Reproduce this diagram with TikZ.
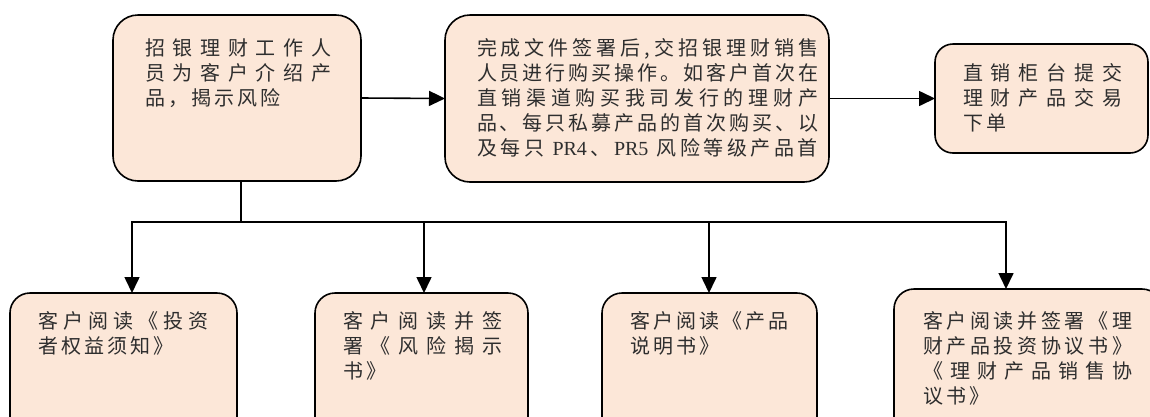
\documentclass[tikz,border=0pt]{standalone}
\usepackage{fontspec}
\newfontfamily\cjk[LetterSpace=15]{Noto Sans CJK SC}
\newfontfamily\latinrm{Liberation Serif}
\usetikzlibrary{arrows.meta, calc}

\definecolor{boxfill}{RGB}{252,231,216}

% spread the characters of one line over a given width
\def\sprstop{\sprstop}
\def\sprstopdef{\sprstop}
\def\sprfirst#1{#1\sprnext}
\def\sprnext#1{\def\sprtmp{#1}\ifx\sprtmp\sprstopdef\else\hfill#1\expandafter\sprnext\fi}
\newcommand\spreadline[2]{\makebox[#1][s]{\sprfirst#2\sprstop}}

% text block of a box: width, height, lines
\newcommand\steptext[3]{\parbox[t][#2][t]{#1}{\cjk\fontsize{20pt}{25pt}\selectfont #3}}

\tikzset{
	stepbox/.style={draw, line width=1.6pt, fill=boxfill, anchor=north west,
		outer sep=0pt, text=black!82},
	link/.style={line width=1.6pt},
	flow/.style={line width=1.6pt, ->},
}

\begin{document}
\begin{tikzpicture}[x=1pt, y=-1pt, >={Triangle[length=16pt, width=15pt]}]
	% --- 1. CANVAS ---
	\useasboundingbox (0,0) rectangle (1150,416);
	\clip (0,0) rectangle (1150,416);
	
	% --- 2. TOP ROW ---
	\node[stepbox, rounded corners=25pt, inner xsep=32pt, inner ysep=23.5pt] (intro) at (113,15)
		{\steptext{184pt}{119pt}{\spreadline{186pt}{招银理财工作人}\\
			\spreadline{186pt}{员为客户介绍产}\\
			品，揭示风险}};
	\node[stepbox, rounded corners=25pt, inner xsep=32pt, inner ysep=23.5pt] (sign) at (445,15)
		{\steptext{320pt}{120pt}{\spreadline{341pt}{完成文件签署后,交招银理财销售}\\
			\spreadline{341pt}{人员进行购买操作。如客户首次在}\\
			\spreadline{341pt}{直销渠道购买我司发行的理财产}\\
			\spreadline{341pt}{品、每只私募产品的首次购买、以}\\
			\spreadline{341pt}{及每只{{\latinrm\ PR4}}、{{\latinrm PR5\ }}风险等级产品首}}};
	\node[stepbox, rounded corners=18pt, inner xsep=28pt, inner ysep=19.5pt] (order) at (935,44)
		{\steptext{157pt}{70pt}{\spreadline{159pt}{直销柜台提交}\\
			\spreadline{159pt}{理财产品交易}\\
			下单}};
	
	% --- 3. BOTTOM ROW (cut by the page edge) ---
	\node[stepbox, rounded corners=20pt, inner xsep=28pt, inner ysep=18.5pt] (read1) at (10,293)
		{\steptext{171pt}{115pt}{\spreadline{170pt}{客户阅读《投资}\\
			者权益须知》}};
	\node[stepbox, rounded corners=20pt, inner xsep=28pt, inner ysep=18.5pt] (read2) at (315,293)
		{\steptext{157pt}{115pt}{\spreadline{159pt}{客户阅读并签}\\
			\spreadline{159pt}{署《风险揭示}\\
			书》}};
	\node[stepbox, rounded corners=20pt, inner xsep=28pt, inner ysep=18.5pt] (read3) at (602,293)
		{\steptext{159pt}{115pt}{客户阅读《产品\\
			说明书》}};
	\node[stepbox, rounded corners=20pt, inner xsep=29pt, inner ysep=22.5pt] (read4) at (894,289)
		{\steptext{210pt}{111pt}{\spreadline{209pt}{客户阅读并签署《理}\\
			\spreadline{209pt}{财产品投资协议书》}\\
			\spreadline{209pt}{《理财产品销售协}\\
			议书》}};
	
	% --- 4. CONNECTORS ---
	\draw[flow] (intro.east) -- (sign.west);
	\draw[flow] (sign.east) -- (order.west);
	
	% branch under the first box
	\coordinate (split) at (241,222);
	\foreach \n/\x in {read1/132, read2/424, read3/709, read4/1006}
		\coordinate (tap-\n) at (\x,222);
	\draw[link] (intro.south -| split) -- (split);
	\draw[link, line cap=rect] (tap-read1) -- (tap-read4);
	\foreach \n in {read1, read2, read3, read4}
		\draw[flow] (tap-\n) -- (tap-\n |- \n.north);
	
\end{tikzpicture}
\end{document}
